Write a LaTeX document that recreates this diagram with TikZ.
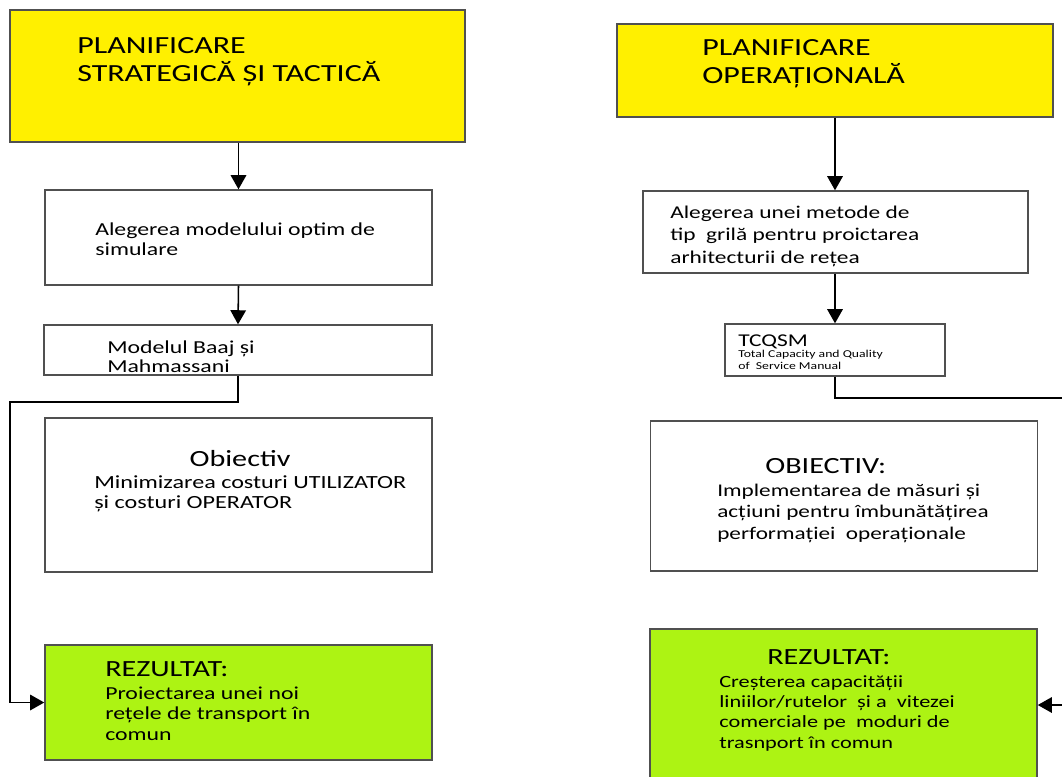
\documentclass[tikz,border=0pt]{standalone}
\usepackage{fontspec}
\setmainfont{Carlito}[FakeStretch=1.3]
\usetikzlibrary{arrows.meta}
\definecolor{galben}{RGB}{255,240,0}
\definecolor{verde}{RGB}{173,243,19}
\definecolor{contur}{RGB}{80,80,80}
\tikzstyle{cutie}=[draw=contur,line width=1pt,inner sep=0pt]
\tikzstyle{eticheta}=[anchor=base west,inner sep=0pt,align=left]
\tikzstyle{sageata}=[-{Triangle[length=10pt,width=11pt]},line width=1.1pt]
\newcommand{\marime}[2]{\fontsize{#1}{#2}\selectfont}

\begin{document}
\begin{tikzpicture}[x=0.025cm,y=-0.025cm]
		\useasboundingbox (0,0) rectangle (1062,776);
		\node[cutie,fill=galben,minimum width=11.375cm,minimum height=3.3cm] (planS) at (237.5,76) {};
		\node[cutie,minimum width=9.675cm,minimum height=2.375cm] (alegS) at (238.5,237.5) {};
		\node[cutie,minimum width=9.7cm,minimum height=1.25cm] (model) at (238,350) {};
		\node[cutie,minimum width=9.675cm,minimum height=3.85cm] (obS) at (238.5,495) {};
		\node[cutie,fill=verde,minimum width=9.675cm,minimum height=2.875cm] (rezS) at (238.5,702.5) {};
		\node[cutie,fill=galben,minimum width=10.9cm,minimum height=2.325cm] (planO) at (835,70.5) {};
		\node[cutie,minimum width=9.625cm,minimum height=2.05cm] (alegO) at (835.5,232) {};
		\node[cutie,minimum width=5.5cm,minimum height=1.3cm] (tcqsm) at (835,350) {};
		\node[cutie,minimum width=9.675cm,minimum height=3.75cm] (obO) at (844,496) {};
		\node[cutie,fill=verde,minimum width=9.675cm,minimum height=3.8cm] (rezO) at (843.5,705) {};
		\coordinate (cotS) at (10,402);
		\coordinate (cotO) at (1075,398);
		\node[eticheta,font=\marime{17.5}{19.8}] (tS) at (77,81) {PLANIFICARE\\STRATEGICĂ ȘI TACTICĂ};
		\node[eticheta,font=\marime{13}{14}] (tA1) at (95,255) {Alegerea modelului optim de\\simulare};
		\node[eticheta,font=\marime{13}{13.5}] (tM) at (107,372) {Modelul Baaj și\\Mahmassani};
		\node[anchor=base,inner sep=0pt,font=\marime{16.5}{18}] (hOS) at (240,466) {Obiectiv};
		\node[eticheta,font=\marime{13.2}{14.2}] (tOS) at (94,508) {Minimizarea costuri UTILIZATOR\\și costuri OPERATOR};
		\node[eticheta,font=\marime{16.5}{18}] (hRS) at (105,676) {REZULTAT:};
		\node[eticheta,font=\marime{13}{14.5}] (tRS) at (105,740) {Proiectarea unei noi\\rețele de transport în\\comun};
		\node[eticheta,font=\marime{17.5}{19.8}] (tO) at (702,83) {PLANIFICARE\\OPERAȚIONALĂ};
		\node[eticheta,font=\marime{12.8}{16}] (tA2) at (670,263) {Alegerea unei metode de\\tip\ \ grilă pentru proictarea\\arhitecturii de rețea};
		\node[eticheta,font=\marime{12.8}{14}] (hT) at (738,346) {TCQSM};
		\node[eticheta,font=\marime{7.5}{8.5}] (tT) at (738,369) {Total Capacity and Quality\\of\ \ Service Manual};
		\node[eticheta,font=\marime{16.5}{18}] (hOO) at (765,473) {OBIECTIV:};
		\node[eticheta,font=\marime{12.7}{15.2}] (tOO) at (717,539) {Implementarea de măsuri și\\acțiuni pentru îmbunătățirea\\performației\ \ operaționale};
		\node[eticheta,font=\marime{16.5}{18}] (hRO) at (767,664) {REZULTAT:};
		\node[eticheta,font=\marime{12.2}{14.4}] (tRO) at (719,748) {Creșterea capacității\\liniilor/rutelor\ \ și a\ \ vitezei\\comerciale pe\ \ moduri de\\trasnport în comun};
		\draw[sageata] (planS.south -| alegS.north) -- (alegS.north);
		\draw[sageata] (alegS.south) -- (model.north);
		\draw[sageata] (model.south) |- (cotS) |- (rezS.west);
		\draw[sageata] (planO.south) -- (alegO.north -| planO.south);
		\draw[sageata] (alegO.south -| tcqsm.north) -- (tcqsm.north);
		\draw[sageata] (tcqsm.south) |- (cotO) |- (rezO.east);
\end{tikzpicture}
\end{document}
